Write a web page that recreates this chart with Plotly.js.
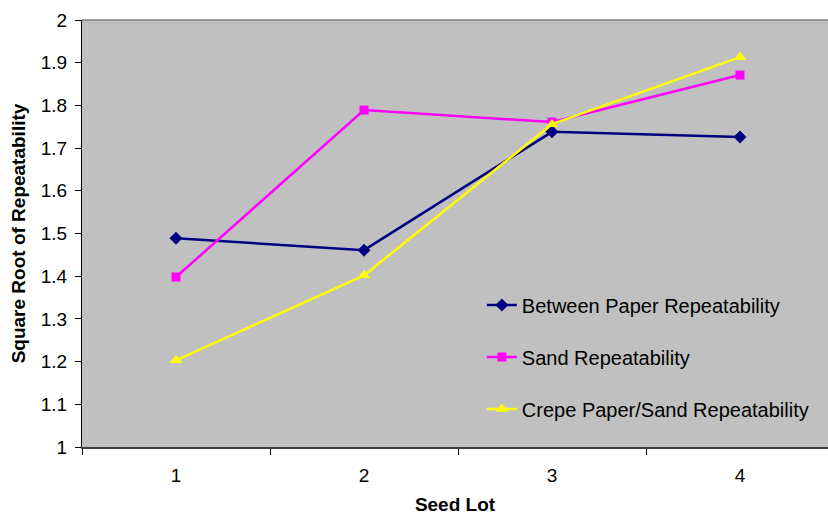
<!DOCTYPE html>
<html>
<head>
<meta charset="utf-8">
<script src="https://cdn.plot.ly/plotly-3.0.1.min.js"></script>
<style>html,body{margin:0;padding:0;overflow:hidden;background:#fff}</style>
</head>
<body>
<div id="chart" style="width:828px;height:515px"></div>
<script>
const seedLots = ['1', '2', '3', '4'];
const betweenPaper = [1.489, 1.461, 1.738, 1.726];
const sand = [1.398, 1.789, 1.761, 1.871];
const crepePaperSand = [1.203, 1.402, 1.756, 1.913];
const seriesNames = ['Between Paper Repeatability', 'Sand Repeatability', 'Crepe Paper/Sand Repeatability'];
const yTicks = [1, 1.1, 1.2, 1.3, 1.4, 1.5, 1.6, 1.7, 1.8, 1.9, 2];
const yTickText = ['1', '1.1', '1.2', '1.3', '1.4', '1.5', '1.6', '1.7', '1.8', '1.9', '2'];

const font = 'Liberation Sans, Arial, sans-serif';
const traces = [
  {x: seedLots, y: betweenPaper, name: seriesNames[0], legendgroup: 'a', type: 'scatter', mode: 'lines+markers',
   line: {color: '#000080', width: 2.5}, marker: {symbol: 'diamond', size: 10, color: '#000080'}},
  {x: seedLots, y: sand, name: seriesNames[1], legendgroup: 'b', type: 'scatter', mode: 'lines+markers',
   line: {color: '#FF00FF', width: 2.5}, marker: {symbol: 'square', size: 9, color: '#FF00FF'}},
  {x: seedLots, y: crepePaperSand, name: seriesNames[2], legendgroup: 'c', type: 'scatter', mode: 'lines+markers',
   line: {color: '#FFFF00', width: 2.5}, marker: {symbol: 'triangle-up', size: 11, color: '#FFFF00'}}
];
const layout = {
  width: 828, height: 515,
  margin: {l: 82, r: 0, t: 20, b: 68},
  paper_bgcolor: '#ffffff', plot_bgcolor: '#C0C0C0',
  font: {family: font, size: 19, color: '#000'},
  showlegend: true,
  legend: {x: 0.536, xanchor: 'left', y: 0.378, yanchor: 'top', bgcolor: 'rgba(0,0,0,0)',
           font: {family: font, size: 20, color: '#000'}, tracegroupgap: 23, traceorder: 'grouped'},
  xaxis: {type: 'category', categoryorder: 'array', categoryarray: seedLots,
          range: [-0.5, 3.468], tickson: 'boundaries', ticks: 'outside', ticklen: 6, tickcolor: '#000',
          ticklabelstandoff: 10,
          showline: true, linecolor: '#404040', linewidth: 2, showgrid: false, zeroline: false,
          tickfont: {family: font, size: 19}, fixedrange: true,
          title: {text: '<b>Seed Lot</b>', font: {family: font, size: 19}, standoff: 17}},
  yaxis: {range: [1, 2], tickmode: 'array', tickvals: yTicks, ticktext: yTickText,
          ticks: 'outside', ticklen: 6, tickcolor: '#000', showline: true, linecolor: '#000', linewidth: 1,
          ticklabelstandoff: 4,
          showgrid: false, zeroline: false, tickfont: {family: font, size: 19},
          title: {text: '<b>Square Root of Repeatability</b>', font: {family: font, size: 19}, standoff: 10}},
  shapes: [{type: 'line', xref: 'paper', yref: 'paper', x0: 0, x1: 1, y0: 1, y1: 1,
            line: {color: '#808080', width: 1.5}}]
};
Plotly.newPlot('chart', traces, layout, {displayModeBar: false, staticPlot: true});
</script>
</body>
</html>
